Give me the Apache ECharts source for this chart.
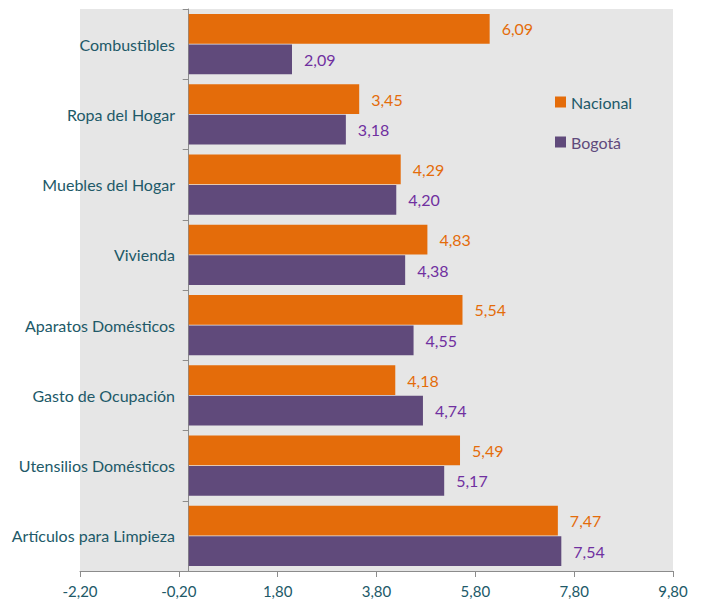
<!DOCTYPE html>
<html>
<head>
<meta charset="utf-8">
<script src="https://cdn.jsdelivr.net/npm/echarts@6/dist/echarts.min.js"></script>
<style>
  html, body { margin: 0; padding: 0; background: #fff; }
  #chart { width: 706px; height: 602px; }
</style>
</head>
<body>
<div id="chart"></div>
<script>
var categories = ['Combustibles', 'Ropa del Hogar', 'Muebles del Hogar', 'Vivienda',
  'Aparatos Domésticos', 'Gasto de Ocupación', 'Utensilios Domésticos', 'Artículos para Limpieza'];
var nacional = [6.09, 3.45, 4.29, 4.83, 5.54, 4.18, 5.49, 7.47];
var bogota = [2.09, 3.18, 4.20, 4.38, 4.55, 4.74, 5.17, 7.54];
var xMin = -2.2, xMax = 9.8, xStep = 2;

(function() {
  var orange = '#E46C0A';
  var purple = '#604A7B';
  var purpleText = '#7030A0';
  var teal = '#215968';
  var axisGray = '#8c8c8c';
  var font = 'Lato';

  function fmt(v) { return Number(v).toFixed(2).replace('.', ','); }

  var chart = echarts.init(document.getElementById('chart'), null, { renderer: 'svg' });
  chart.setOption({
    animation: false,
    textStyle: { fontFamily: font },
    grid: {
      left: 80, right: 33, top: 9, bottom: 31,
      containLabel: false, outerBoundsMode: 'none',
      show: true, backgroundColor: '#E6E6E6', borderWidth: 0
    },
    legend: {
      orient: 'vertical', left: 555, top: 94, padding: 0, itemGap: 24,
      icon: 'rect', itemWidth: 11, itemHeight: 11,
      textStyle: { fontSize: 16, fontFamily: font },
      data: [
        { name: 'Nacional', textStyle: { color: teal } },
        { name: 'Bogotá', textStyle: { color: purple } }
      ]
    },
    xAxis: {
      type: 'value', min: xMin, max: xMax, interval: xStep,
      axisLine: { show: true, lineStyle: { color: axisGray } },
      axisTick: { show: true, length: 6, lineStyle: { color: axisGray } },
      splitLine: { show: false },
      axisLabel: { color: teal, fontSize: 15, margin: 12, formatter: fmt }
    },
    yAxis: {
      type: 'category', data: categories, inverse: true,
      axisLine: { onZero: true, lineStyle: { color: axisGray } },
      axisTick: { show: true, length: 6, lineStyle: { color: axisGray } },
      // labels stay at the grid edge, so pull them in toward the zero line
      axisLabel: { color: teal, fontSize: 16, margin: -95 }
    },
    series: [
      {
        name: 'Nacional', type: 'bar', data: nacional,
        barCategoryGap: '14%', barGap: '3%',
        itemStyle: { color: orange },
        label: { show: true, position: 'right', distance: 12, color: orange, fontSize: 16,
          formatter: function(p) { return fmt(p.value); } }
      },
      {
        name: 'Bogotá', type: 'bar', data: bogota,
        barCategoryGap: '14%', barGap: '3%',
        itemStyle: { color: purple },
        label: { show: true, position: 'right', distance: 12, color: purpleText, fontSize: 16,
          formatter: function(p) { return fmt(p.value); } }
      }
    ]
  });
  window.addEventListener('resize', function() { chart.resize(); });
})();
</script>
</body>
</html>
